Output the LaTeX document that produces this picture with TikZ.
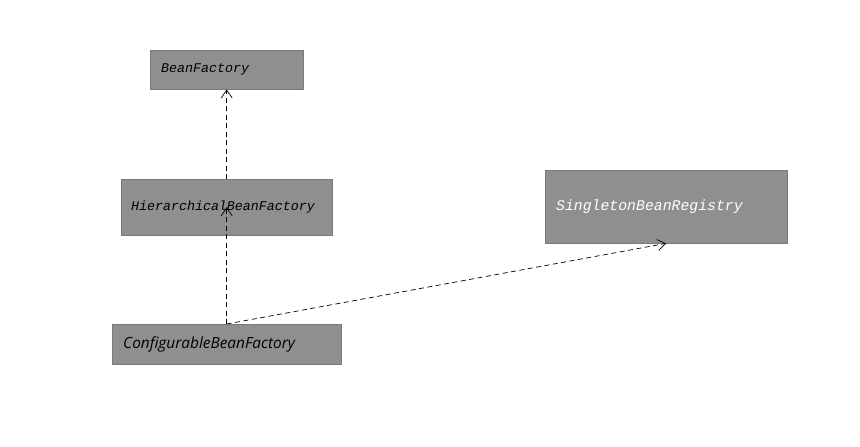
\documentclass[tikz,border=0pt]{standalone}
\usepackage{fontspec}
\usepackage{tikz}
\usetikzlibrary{arrows.meta,positioning}
\newfontfamily\umlmono{Liberation Mono}
\newfontfamily\umlsans{Open Sans}
\definecolor{BoxFill}{HTML}{8F8F8F}
\definecolor{BoxRule}{HTML}{7A7A7A}

\begin{document}
\begin{tikzpicture}[x=1pt,y=-1pt,
  iface/.style={draw=BoxRule,fill=BoxFill,anchor=north west,inner xsep=11pt,inner ysep=0pt,align=left},
  dep/.style={dash pattern=on 5pt off 3.5pt,-{Straight Barb[length=8pt,width=11pt]},line width=0.7pt}]
  \fill[white] (0,0) rectangle (860,447);
  \useasboundingbox (0,0) rectangle (860,447);
  % interfaces
  \node[iface,text width=131pt,minimum height=39pt,font=\umlmono\itshape\fontsize{13.3}{15}\selectfont] (bf) at (150,50) {BeanFactory};
  \node[iface,text width=191pt,minimum height=56pt,inner xsep=10pt,font=\umlmono\itshape\fontsize{13.3}{15}\selectfont] (hier) at (121,179) {HierarchicalBeanFactory};
  \node[iface,text width=207pt,minimum height=40pt,font=\umlsans\itshape\fontsize{15.4}{17}\selectfont] (conf) at (112,324) {ConfigurableBeanFactory};
  \node[iface,text width=220pt,minimum height=73pt,text=white,font=\umlmono\itshape\fontsize{14.8}{17}\selectfont] (sing) at (545,170) {SingletonBeanRegistry};
  % dependencies
  \draw[dep] (hier.north) -- (bf.south);
  \draw[dep] (conf.north) -- (hier.center);
  \draw[dep] (conf.north) -- (sing.south);
\end{tikzpicture}
\end{document}
